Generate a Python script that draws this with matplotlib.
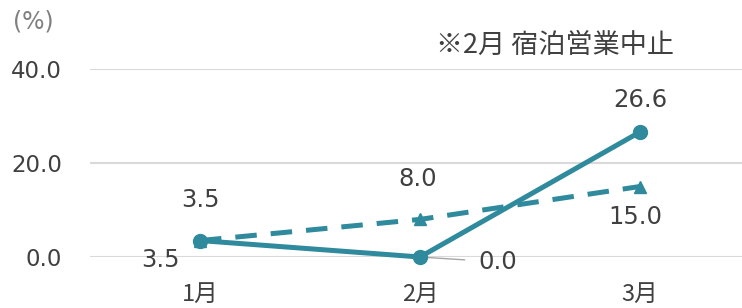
import matplotlib
matplotlib.use("Agg")
import matplotlib.pyplot as plt

plt.rcParams['font.family'] = ['DejaVu Sans', 'Noto Sans CJK JP']

categories = ["1月", "2月", "3月"]
series_solid = [3.5, 0.0, 26.6]
series_dashed = [3.5, 8.0, 15.0]
yticks = [0, 20, 40]
ytick_labels = ["0.0", "20.0", "40.0"]
note = "※2月 宿泊営業中止"
unit = "(%)"

color = "#2E8A9C"
text_color = "#404040"

fig = plt.figure(figsize=(7.42, 3.08), dpi=100)
ax = fig.add_axes([90/742, (308-257)/308, 660/742, (257-69)/308])
x = list(range(len(categories)))

ax.plot(x, series_dashed, color=color, lw=3.6, ls=(0, (4.3, 2.8)), marker="^",
        ms=8, clip_on=False, zorder=3)
ax.plot(x, series_solid, color=color, lw=3.6, marker="o", ms=10,
        clip_on=False, zorder=4)

ax.set_xlim(-0.5, 2.5)
ax.set_ylim(0, 40)
ax.set_yticks(yticks)
ax.set_yticklabels(ytick_labels)
ax.set_xticks(x)
ax.set_xticklabels(categories)
ax.tick_params(axis="both", length=0, labelsize=16.5, labelcolor=text_color)
ax.tick_params(axis="y", pad=20)
ax.tick_params(axis="x", pad=19, labelsize=17)
for lbl in ax.get_xticklabels():
    lbl.set_fontfamily(['Noto Sans CJK JP', 'DejaVu Sans'])
for s in ax.spines.values():
    s.set_visible(False)
ax.grid(axis="y", color="#d9d9d9", lw=1.5)
ax.set_axisbelow(True)

fs = 17.5
kw = dict(textcoords="offset pixels", ha="center", va="center", fontsize=fs, color=text_color)
# solid series labels
ax.annotate(f"{series_solid[0]:.1f}", (x[0], series_solid[0]), xytext=(-40, -19), **kw)
ax.annotate(f"{series_solid[1]:.1f}", (x[1], series_solid[1]), xytext=(78, -5),
            arrowprops=dict(arrowstyle="-", color="#a6a6a6", lw=1, shrinkA=8, shrinkB=0), **kw)
ax.annotate(f"{series_solid[2]:.1f}", (x[2], series_solid[2]), xytext=(0, 32), **kw)
# dashed series labels
ax.annotate(f"{series_dashed[0]:.1f}", (x[0], series_dashed[0]), xytext=(0, 41), **kw)
ax.annotate(f"{series_dashed[1]:.1f}", (x[1], series_dashed[1]), xytext=(-2, 40), **kw)
ax.annotate(f"{series_dashed[2]:.1f}", (x[2], series_dashed[2]), xytext=(-5, -30), **kw)

fig.text(33/742, 1 - 22/308, unit, ha="center", va="center", fontsize=17, color="#7f7f7f")
fig.text(555/742, 1 - 45/308, note, ha="center", va="center", fontsize=19.5, color=text_color,
         fontfamily=['Noto Sans CJK JP', 'DejaVu Sans'])

fig.savefig("out.png", dpi=100)
